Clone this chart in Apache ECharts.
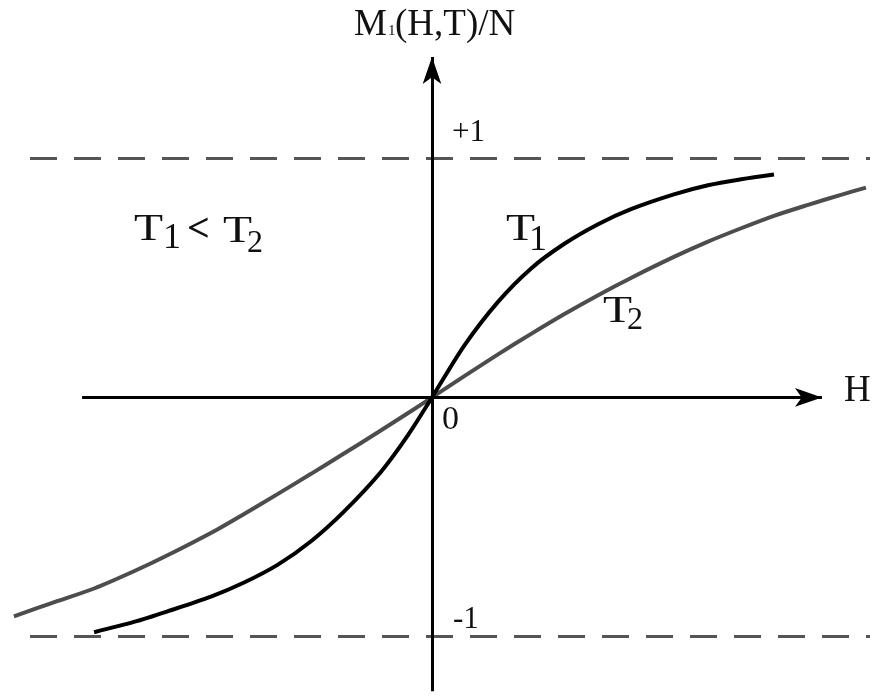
<!DOCTYPE html>
<html>
<head>
<meta charset="utf-8">
<script src="https://cdn.jsdelivr.net/npm/echarts@6/dist/echarts.min.js"></script>
<style>
  html, body { margin: 0; padding: 0; background: #ffffff; }
  #chart { width: 876px; height: 696px; }
</style>
</head>
<body>
<div id="chart"></div>
<script>
// Reduced magnetisation M1(H,T)/N against field H, for T1 < T2.
const t1Curve = [
  [-1.408, -0.983], [-1.242, -0.940], [-1.100, -0.895], [-0.921, -0.834],
  [-0.783, -0.775], [-0.642, -0.700], [-0.504, -0.602], [-0.367, -0.478],
  [-0.213, -0.312], [-0.100, -0.158], [0, 0], [0.133, 0.215],
  [0.275, 0.400], [0.413, 0.540], [0.550, 0.642], [0.692, 0.725],
  [0.829, 0.788], [1.008, 0.850], [1.150, 0.888], [1.288, 0.913],
  [1.425, 0.933]
];
const t2Curve = [
  [-1.742, -0.917], [-1.588, -0.862], [-1.408, -0.800], [-1.242, -0.728],
  [-1.100, -0.660], [-0.900, -0.556], [-0.783, -0.488], [-0.642, -0.404],
  [-0.504, -0.320], [-0.367, -0.235], [-0.225, -0.146], [-0.088, -0.058],
  [0, 0], [0.133, 0.088], [0.275, 0.180], [0.413, 0.266], [0.550, 0.348],
  [0.692, 0.428], [0.829, 0.500], [1.008, 0.588], [1.150, 0.652],
  [1.288, 0.708], [1.425, 0.760], [1.567, 0.806], [1.704, 0.848],
  [1.808, 0.878]
];
// Saturation levels (dashed) and the extents of the drawn axes
const saturationLevels = [1, -1];
const saturationSpan = [-1.675, 1.825];
const fieldAxisSpan = [-1.458, 1.625];
const momentAxisSpan = [-1.23, 1.425];

const SERIF = '"Liberation Serif", "Times New Roman", serif';
const INK = '#111111';

function label(text, x, y, size, extra, weight) {
  return Object.assign({
    type: 'text',
    x: x,
    y: y,
    silent: true,
    style: {
      text: text,
      font: (weight ? weight + ' ' : '') + size + 'px ' + SERIF,
      fill: INK,
      textAlign: 'left',
      textVerticalAlign: 'middle'
    }
  }, extra || {});
}
const wide = { scaleX: 1.25 };

const chart = echarts.init(document.getElementById('chart'), null, { renderer: 'canvas' });

const segment = (from, to) => [{ coord: from }, { coord: to }];

chart.setOption({
  animation: false,
  backgroundColor: '#ffffff',
  grid: { left: 12, top: 51, width: 864, height: 647, containLabel: false },
  xAxis: {
    type: 'value', min: -1.75, max: 1.85,
    show: false, splitLine: { show: false }
  },
  yAxis: {
    type: 'value', min: -1.25, max: 1.45,
    show: false, splitLine: { show: false }
  },
  series: [
    {
      name: 'saturation',
      type: 'line',
      data: [],
      silent: true,
      clip: false,
      markLine: {
        silent: true,
        animation: false,
        symbol: ['none', 'none'],
        label: { show: false },
        emphasis: { disabled: true },
        lineStyle: { color: '#555555', width: 3, type: [27, 17] },
        data: saturationLevels.map(v =>
          segment([saturationSpan[0], v], [saturationSpan[1], v]))
      }
    },
    {
      name: 'axes',
      type: 'line',
      data: [],
      silent: true,
      clip: false,
      markLine: {
        silent: true,
        animation: false,
        symbol: ['none', 'arrow'],
        symbolSize: [14, 27],
        label: { show: false },
        emphasis: { disabled: true },
        lineStyle: { color: '#000000', width: 3, type: 'solid' },
        data: [
          segment([fieldAxisSpan[0], 0], [fieldAxisSpan[1], 0]),
          segment([0, momentAxisSpan[0]], [0, momentAxisSpan[1]])
        ]
      }
    },
    {
      name: 'T2',
      type: 'line',
      data: t2Curve,
      smooth: 0.3,
      showSymbol: false,
      clip: false,
      silent: true,
      lineStyle: { color: '#4d4d4d', width: 4 }
    },
    {
      name: 'T1',
      type: 'line',
      data: t1Curve,
      smooth: 0.3,
      showSymbol: false,
      clip: false,
      silent: true,
      lineStyle: { color: '#000000', width: 4 }
    }
  ],
  graphic: [
    // vertical axis title M1(H,T)/N
    label('M', 354, 25, 37),
    label('1', 388, 31, 15),
    label('(H,T)/N', 395, 25, 37),
    // saturation labels, origin and field axis name
    label('+1', 452, 133, 31),
    label('-1', 453, 620, 31),
    label('0', 442, 420, 34),
    label('H', 844, 391, 37),
    // statement T1 < T2
    label('T', 134, 230, 38, wide),
    label('1', 163, 239, 36),
    label('<', 187, 231, 40, null, 'bold'),
    label('T', 223, 232, 38, wide),
    label('2', 247, 244, 32),
    // curve names
    label('T', 506, 230, 38, wide),
    label('1', 529, 241, 36),
    label('T', 603, 312, 38, wide),
    label('2', 627, 321, 32)
  ]
});
</script>
</body>
</html>
